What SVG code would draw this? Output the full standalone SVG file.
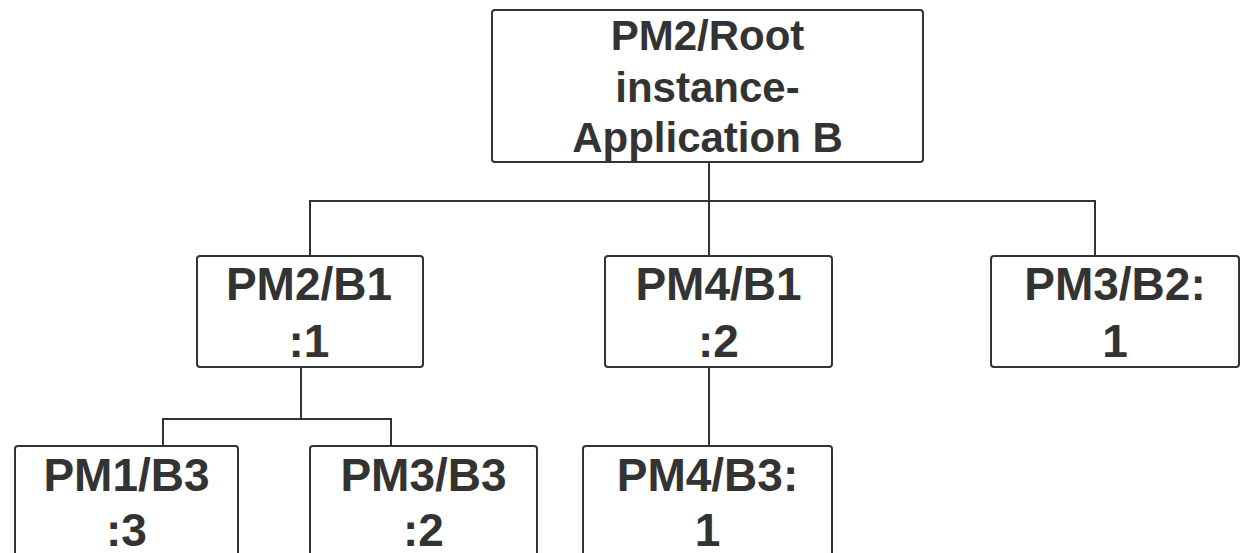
<svg xmlns="http://www.w3.org/2000/svg" width="1241" height="553" viewBox="0 0 1241 553">
<style>
.box{fill:#ffffff;stroke:#333333;stroke-width:2}
.t{font-family:"Liberation Sans",Arial,sans-serif;font-weight:bold;fill:#333333;text-anchor:middle}
.big{font-size:46px}
.root{font-size:42px}
.c{fill:none;stroke:#333333;stroke-width:2}
</style>
<rect width="1241" height="553" fill="#ffffff"/>
<g id="connectors">
<path class="c" d="M709,162 V201 M309,201 H1096 M310,200 V256 M709,201 V256 M1095,200 V256"/>
<path class="c" d="M301,367 V419 M162,419 H392 M163,419 V446 M391,419 V446"/>
<path class="c" d="M709,367 V446"/>
</g>
<g id="root">
<rect class="box" x="492" y="10" width="431" height="152" rx="3"/>
<text class="t root" x="707.5" y="50">PM2/Root</text>
<text class="t root" x="707.5" y="101.5">instance-</text>
<text class="t root" x="707.5" y="152">Application B</text>
</g>
<g id="pm2b1">
<rect class="box" x="197" y="256" width="226" height="111" rx="3"/>
<text class="t big" x="309" y="300">PM2/B1</text>
<text class="t big" x="309" y="357">:1</text>
</g>
<g id="pm4b1">
<rect class="box" x="605" y="256" width="227" height="111" rx="3"/>
<text class="t big" x="718.5" y="300">PM4/B1</text>
<text class="t big" x="718.5" y="357">:2</text>
</g>
<g id="pm3b2">
<rect class="box" x="991" y="256" width="248" height="111" rx="3"/>
<text class="t big" x="1115" y="300">PM3/B2:</text>
<text class="t big" x="1115" y="357">1</text>
</g>
<g id="pm1b3">
<rect class="box" x="15" y="446" width="223" height="111" rx="3"/>
<text class="t big" x="126.5" y="490.5">PM1/B3</text>
<text class="t big" x="126.5" y="546">:3</text>
</g>
<g id="pm3b3">
<rect class="box" x="310" y="446" width="227" height="111" rx="3"/>
<text class="t big" x="423.5" y="490.5">PM3/B3</text>
<text class="t big" x="423.5" y="546">:2</text>
</g>
<g id="pm4b3">
<rect class="box" x="583" y="446" width="249" height="111" rx="3"/>
<text class="t big" x="707.5" y="490.5">PM4/B3:</text>
<text class="t big" x="707.5" y="546">1</text>
</g>
</svg>
